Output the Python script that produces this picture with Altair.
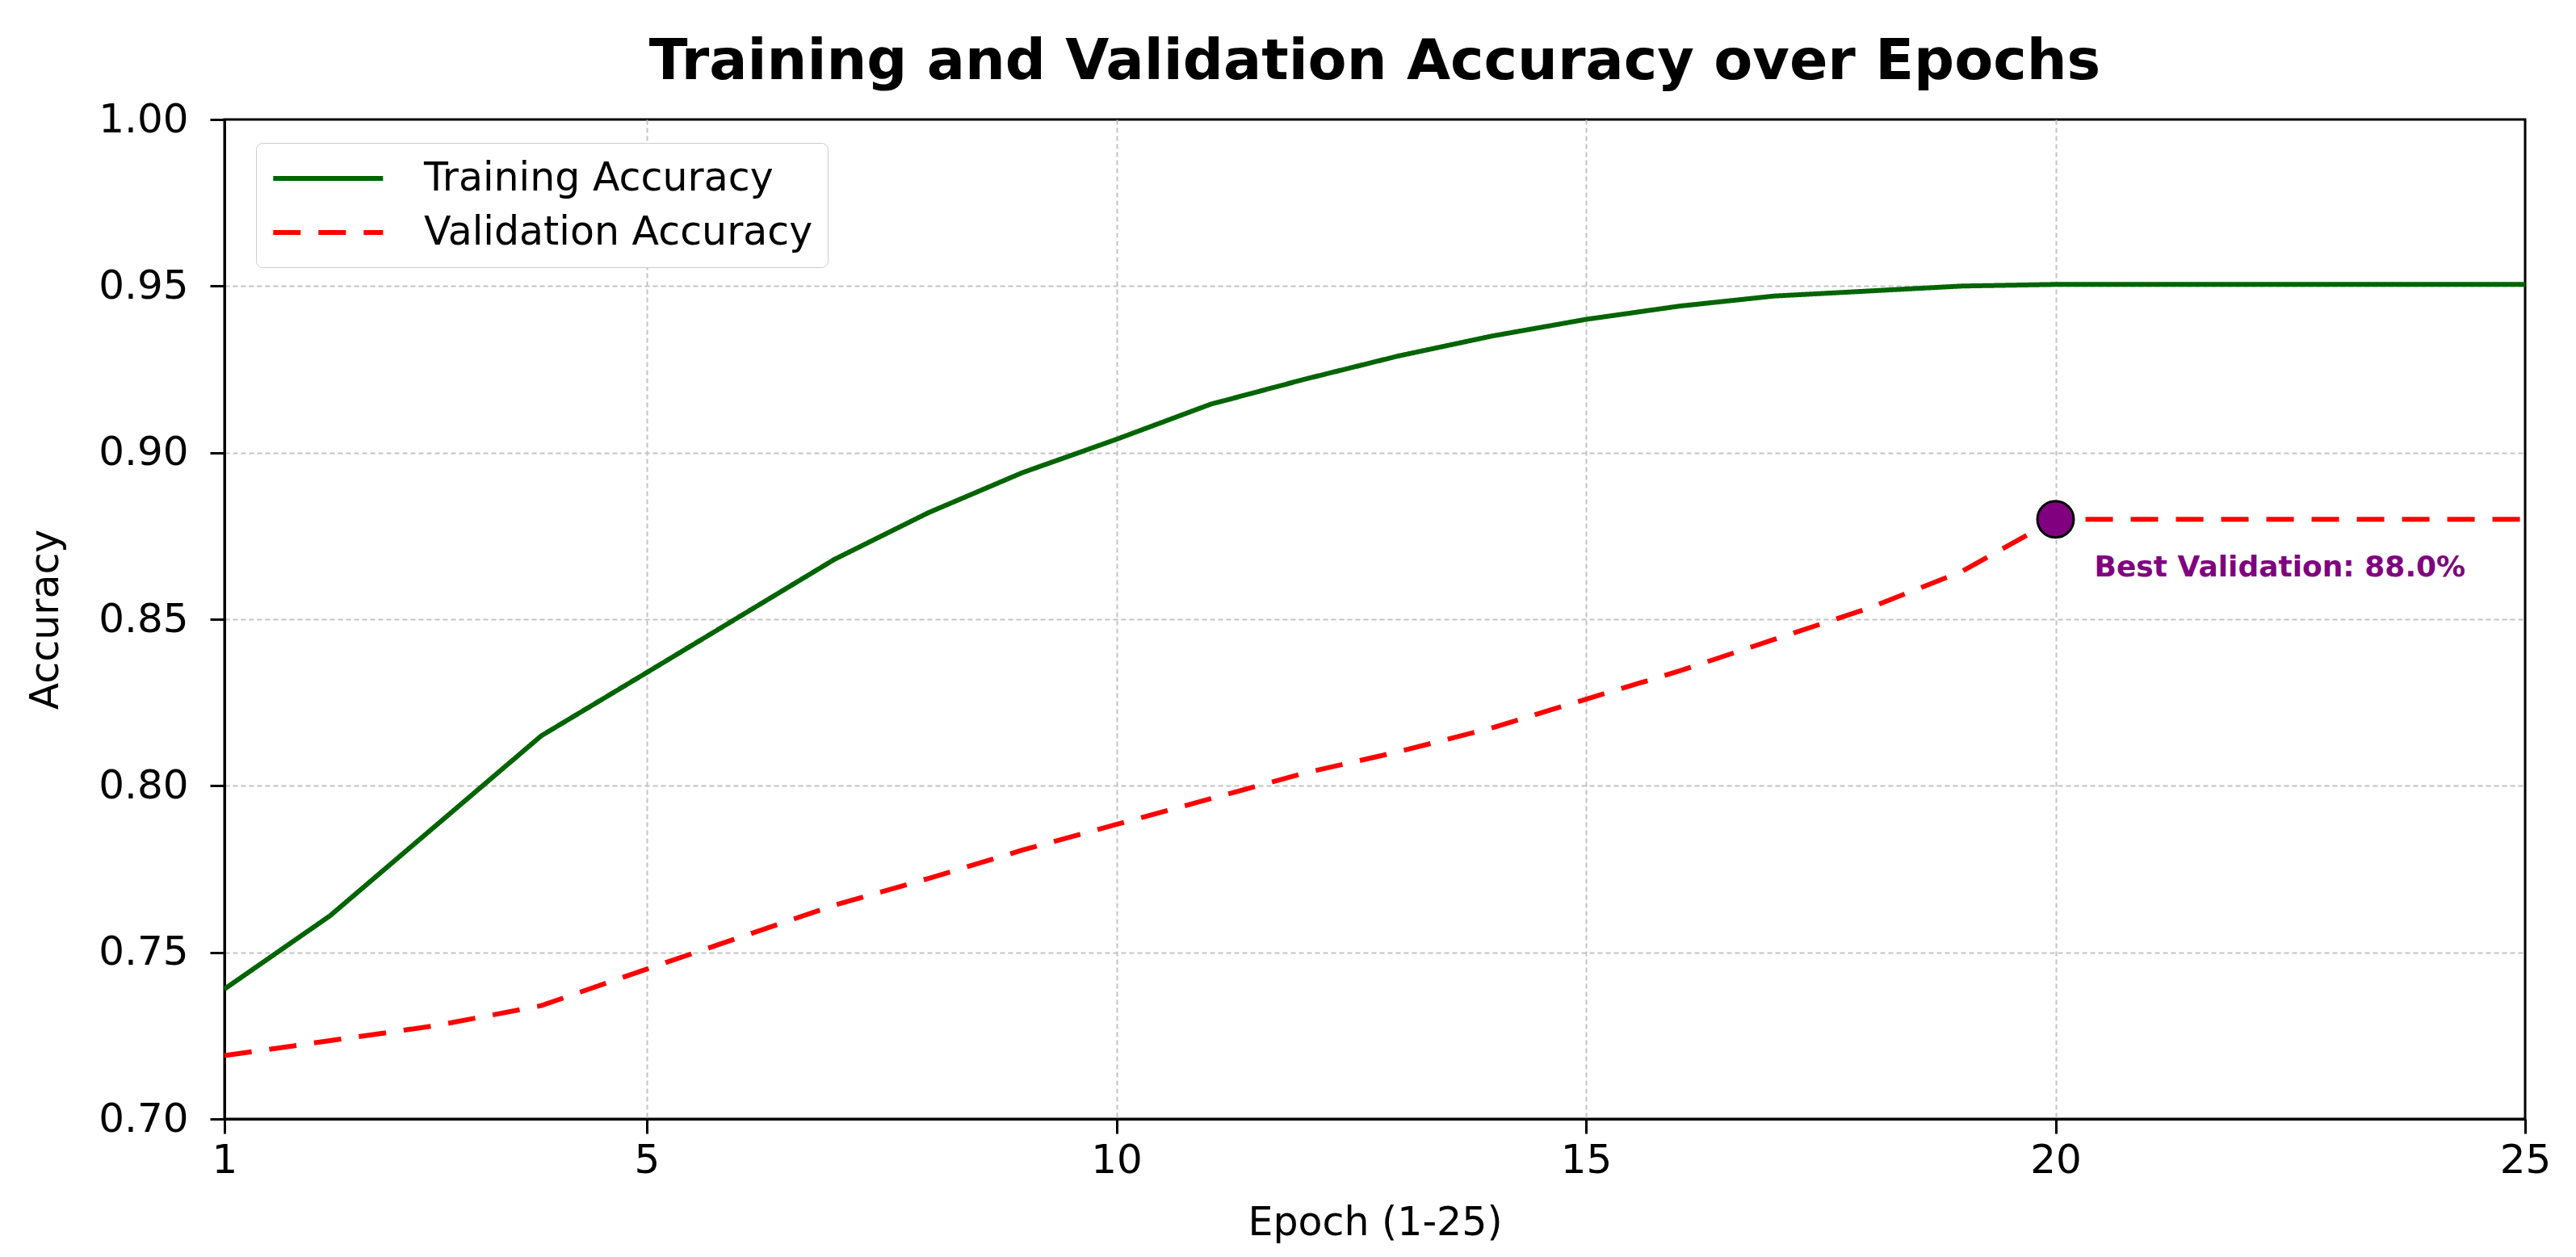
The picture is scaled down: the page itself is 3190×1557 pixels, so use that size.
import altair as alt
import numpy as np
import pandas as pd

# Per-epoch accuracy values
epochs = list(range(1, 26))
train_acc = [0.739, 0.761, 0.788, 0.815, 0.834, 0.851, 0.868, 0.882, 0.894, 0.904,
             0.9145, 0.922, 0.929, 0.935, 0.940, 0.944, 0.947, 0.9485, 0.950, 0.9505,
             0.9505, 0.9505, 0.9505, 0.9505, 0.9505]
val_acc = [0.719, 0.7235, 0.728, 0.734, 0.745, 0.7546, 0.7642, 0.7722, 0.7807, 0.7884,
           0.7961, 0.8038, 0.8102, 0.8174, 0.826, 0.8345, 0.8439, 0.8532, 0.8643, 0.880,
           0.880, 0.880, 0.880, 0.880, 0.880]
series_names = ["Training Accuracy", "Validation Accuracy"]
series_colors = ["#006400", "#ff0000"]
x_ticks = [1, 5, 10, 15, 20, 25]
y_ticks = [0.70, 0.75, 0.80, 0.85, 0.90, 0.95, 1.00]

df = pd.DataFrame({
    "epoch": epochs * 2,
    "accuracy": train_acc + val_acc,
    "series": [series_names[0]] * len(epochs) + [series_names[1]] * len(epochs),
})

best_i = int(np.argmax(val_acc))
best = pd.DataFrame({
    "epoch": [epochs[best_i]],
    "accuracy": [val_acc[best_i]],
    "label": [f"Best Validation: {val_acc[best_i] * 100:.1f}%"],
})

W, H = 2849, 1238
FONT = "DejaVu Sans"

x_scale = alt.Scale(domain=[1, 5, 25], range=[0, 523, W], nice=False, zero=False)
y_scale = alt.Scale(domain=[0.70, 1.00], nice=False, zero=False)

# grid lines on the frame edges are hidden so the black frame stays solid
x_enc = alt.X("epoch:Q", scale=x_scale,
              axis=alt.Axis(values=x_ticks, format="d", title="Epoch (1-25)",
                            gridOpacity={"condition": {"test": "datum.value <= 1 || datum.value >= 25",
                                                       "value": 0}, "value": 1}))
y_enc = alt.Y("accuracy:Q", scale=y_scale,
              axis=alt.Axis(values=y_ticks, format=".2f", title="Accuracy",
                            gridOpacity={"condition": {"test": "datum.value <= 0.7 || datum.value >= 0.999",
                                                       "value": 0}, "value": 1}))

lines = alt.Chart(df).mark_line(strokeWidth=6, strokeCap="butt").encode(
    x=x_enc,
    y=y_enc,
    color=alt.Color("series:N",
                    scale=alt.Scale(domain=series_names, range=series_colors),
                    legend=alt.Legend(title=None)),
    strokeDash=alt.StrokeDash("series:N",
                              scale=alt.Scale(domain=series_names, range=[[1, 0], [34, 22]]),
                              legend=alt.Legend(title=None)),
)

best_point = alt.Chart(best).mark_circle(
    size=2025, color="#800080", opacity=1, stroke="black", strokeWidth=3
).encode(x=x_enc, y=y_enc)

best_label = alt.Chart(best).mark_text(
    align="left", baseline="middle", dx=48, dy=60,
    font=FONT, fontSize=36, fontWeight="bold", color="#800080"
).encode(x=x_enc, y=y_enc, text="label:N")

chart = alt.layer(lines, best_point, best_label).properties(
    width=W,
    height=H,
    autosize=alt.AutoSizeParams(type="none"),
    padding={"left": 278, "top": 148, "right": 63, "bottom": 171},
    title=alt.Title(
        "Training and Validation Accuracy over Epochs",
        font=FONT, fontSize=70, fontWeight="bold", color="black",
        anchor="middle", offset=10,
    ),
).configure(
    background="white",
).configure_view(
    stroke="black", strokeWidth=3,
).configure_axis(
    domainColor="black", domainWidth=3,
    tickColor="black", tickWidth=3, tickSize=18,
    labelFont=FONT, labelFontSize=50, labelColor="black", labelFlush=False,
    titleFont=FONT, titleFontSize=49, titleFontWeight="normal", titleColor="black",
    gridColor="#c4c4c4", gridDash=[6, 4], gridWidth=2,
).configure_axisX(
    labelPadding=8, titlePadding=28,
).configure_axisY(
    labelPadding=27, titlePadding=40,
).configure_legend(
    orient="none", legendX=39, legendY=29,
    padding=18, fillColor="white", strokeColor="#cccccc", cornerRadius=8,
    labelFont=FONT, labelFontSize=49, labelColor="black", labelLimit=1000,
    symbolType="M-1,0H5", symbolSize=2055, symbolStrokeWidth=6,
    rowPadding=16, labelOffset=138,
)

chart.save("out.html", embed_options={"renderer": "svg", "actions": False})
